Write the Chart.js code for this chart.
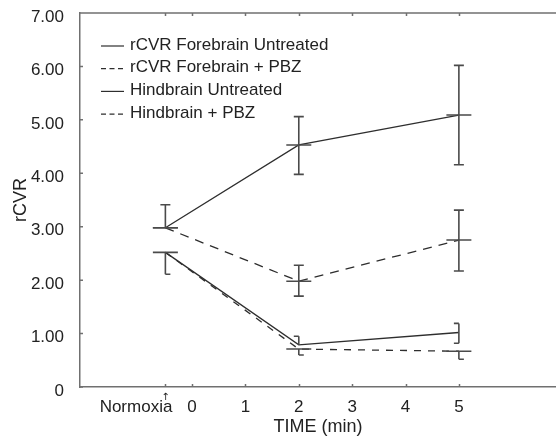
<!DOCTYPE html>
<html>
<head>
<meta charset="utf-8">
<script src="https://cdn.jsdelivr.net/npm/chart.js@4.4.0/dist/chart.umd.min.js"></script>
<style>
  html, body { margin: 0; padding: 0; background: #fff; }
  #wrap { width: 556px; height: 440px; }
</style>
</head>
<body>
<div id="wrap"><canvas id="chart"></canvas></div>
<script>
// Time points (min); Normoxia sits half a minute before 0
const timePoints = [-0.5, 2, 5];
const xTicks = [-0.5, 0, 1, 2, 3, 4, 5];
const yTicks = [0, 1, 2, 3, 4, 5, 6, 7];

const seriesLabels = [
  'rCVR Forebrain Untreated',
  'rCVR Forebrain + PBZ',
  'Hindbrain Untreated',
  'Hindbrain + PBZ'
];

// means
const fbUntreated = [2.98, 4.53, 5.09];
const fbPbz = [2.98, 1.98, 2.75];
const hbUntreated = [2.52, 0.79, 1.02];
const hbPbz = [2.52, 0.71, 0.67];

// error bar ends (upper / lower)
const fbUntreatedHi = [3.41, 5.06, 6.02];
const fbUntreatedLo = [2.98, 3.98, 4.16];
const fbPbzHi = [2.98, 2.28, 3.31];
const fbPbzLo = [2.98, 1.70, 2.17];
const hbUntreatedHi = [2.52, 0.95, 1.19];
const hbUntreatedLo = [2.52, 0.79, 0.82];
const hbPbzHi = [2.52, 0.71, 0.67];
const hbPbzLo = [2.11, 0.60, 0.52];

const ink = '#2e2e2e';
const barInk = '#4a4a4a';
const axisInk = '#707070';
const fontFamily = "'Liberation Sans', Arial, sans-serif";

function toPoints(values) {
  return values.map((v, i) => ({ x: timePoints[i], y: v }));
}

const errors = [
  { hi: fbUntreatedHi, lo: fbUntreatedLo, cap: 'both', cross: 12.5 },
  { hi: fbPbzHi, lo: fbPbzLo, cap: 'both', cross: 12.5 },
  { hi: hbUntreatedHi, lo: hbUntreatedLo, cap: 'left', cross: 0 },
  { hi: hbPbzHi, lo: hbPbzLo, cap: 'right', cross: 12.5 }
];

// Error bars, crossbars at the means
const errorBarPlugin = {
  id: 'errorBars',
  afterDatasetsDraw(chart) {
    const { ctx, scales: { x, y } } = chart;
    ctx.save();
    ctx.strokeStyle = barInk;
    ctx.lineWidth = 1.6;
    ctx.setLineDash([]);
    chart.data.datasets.forEach((ds, i) => {
      const err = errors[i];
      ds.data.forEach((p, j) => {
        const px = x.getPixelForValue(p.x);
        const pm = y.getPixelForValue(p.y);
        const ph = y.getPixelForValue(err.hi[j]);
        const pl = y.getPixelForValue(err.lo[j]);
        const c0 = err.cap === 'right' ? 0 : -5;
        const c1 = err.cap === 'left' ? 0 : 5;
        ctx.beginPath();
        if (err.hi[j] !== p.y) {
          ctx.moveTo(px, pm); ctx.lineTo(px, ph);
          ctx.moveTo(px + c0, ph); ctx.lineTo(px + c1, ph);
        }
        if (err.lo[j] !== p.y) {
          ctx.moveTo(px, pm); ctx.lineTo(px, pl);
          ctx.moveTo(px + c0, pl); ctx.lineTo(px + c1, pl);
        }
        if (err.cross) {
          ctx.moveTo(px - err.cross, pm); ctx.lineTo(px + err.cross, pm);
        }
        ctx.stroke();
      });
    });
    ctx.restore();
  }
};

// Frame: top line, inward tick marks, Normoxia label, legend
const framePlugin = {
  id: 'frame',
  afterDraw(chart) {
    const { ctx, chartArea: a, scales: { x, y } } = chart;
    ctx.save();
    ctx.strokeStyle = axisInk;
    ctx.lineWidth = 1.5;
    ctx.beginPath();
    ctx.moveTo(a.left, a.top); ctx.lineTo(a.right, a.top);
    xTicks.forEach(v => {
      const px = Math.round(x.getPixelForValue(v)) + 0.5;
      ctx.moveTo(px, a.bottom); ctx.lineTo(px, a.bottom - 3);
      ctx.moveTo(px, a.top); ctx.lineTo(px, a.top + 3);
    });
    yTicks.forEach(v => {
      const py = y.getPixelForValue(v);
      ctx.moveTo(a.left, py); ctx.lineTo(a.left + 3, py);
    });
    ctx.stroke();

    // Normoxia label with its small arrow
    const nx = x.getPixelForValue(-0.5);
    ctx.fillStyle = '#222';
    ctx.font = '17px ' + fontFamily;
    ctx.textAlign = 'right';
    ctx.textBaseline = 'alphabetic';
    ctx.fillText('Normoxia', nx + 7, a.bottom + 25);
    ctx.font = '10px DejaVu Sans';
    ctx.textAlign = 'center';
    ctx.fillText('\u2191', nx, a.bottom + 13);

    // legend
    ctx.font = '17px ' + fontFamily;
    ctx.textAlign = 'left';
    ctx.textBaseline = 'middle';
    chart.data.datasets.forEach((ds, i) => {
      const ly = 45 + i * 22.7;
      ctx.strokeStyle = ink;
      ctx.lineWidth = 1.2;
      ctx.setLineDash(ds.borderDash && ds.borderDash.length ? [5, 3.5] : []);
      ctx.beginPath();
      ctx.moveTo(101, ly + 1); ctx.lineTo(124, ly + 1);
      ctx.stroke();
      ctx.setLineDash([]);
      ctx.fillText(ds.label, 130, ly);
    });
    ctx.restore();
  }
};

function lineSet(label, values, dash) {
  return {
    label: label,
    data: toPoints(values),
    borderColor: ink,
    borderWidth: 1.3,
    borderDash: dash,
    pointRadius: 0,
    tension: 0,
    fill: false
  };
}

new Chart(document.getElementById('chart'), {
  type: 'line',
  data: {
    datasets: [
      lineSet(seriesLabels[0], fbUntreated, []),
      lineSet(seriesLabels[1], fbPbz, [9, 7]),
      lineSet(seriesLabels[2], hbUntreated, []),
      lineSet(seriesLabels[3], hbPbz, [7, 7])
    ]
  },
  options: {
    responsive: true,
    maintainAspectRatio: false,
    animation: false,
    layout: { padding: { top: 13, right: 0, left: 0, bottom: 0 } },
    plugins: {
      legend: { display: false },
      tooltip: { enabled: false }
    },
    scales: {
      x: {
        type: 'linear',
        min: -2.1,
        max: 6.82,
        afterBuildTicks: scale => { scale.ticks = xTicks.map(v => ({ value: v })); },
        afterFit: scale => { scale.height = 53; scale.paddingLeft = 0; scale.paddingRight = 0; },
        grid: { display: false },
        border: { display: true, color: axisInk, width: 1.5 },
        ticks: {
          color: '#222',
          font: { family: fontFamily, size: 17 },
          padding: 2,
          maxRotation: 0,
          autoSkip: false,
          callback: v => (v === -0.5 ? '' : String(v))
        },
        title: {
          display: true,
          text: 'TIME (min)',
          color: '#222',
          font: { family: fontFamily, size: 18 },
          padding: { top: 0, bottom: 2 }
        }
      },
      y: {
        min: 0,
        max: 7,
        afterBuildTicks: scale => { scale.ticks = yTicks.map(v => ({ value: v })); },
        afterFit: scale => { scale.width = 80; scale.paddingTop = 0; scale.paddingBottom = 0; },
        grid: { display: false },
        border: { display: true, color: axisInk, width: 1.5 },
        ticks: {
          color: '#222',
          font: { family: fontFamily, size: 17 },
          padding: 8,
          labelOffset: 4,
          callback: v => (v === 0 ? '0' : v.toFixed(2))
        },
        title: {
          display: true,
          text: 'rCVR',
          color: '#222',
          font: { family: fontFamily, size: 18 },
          padding: { top: 10, bottom: 0 }
        }
      }
    }
  },
  plugins: [errorBarPlugin, framePlugin]
});
</script>
</body>
</html>
